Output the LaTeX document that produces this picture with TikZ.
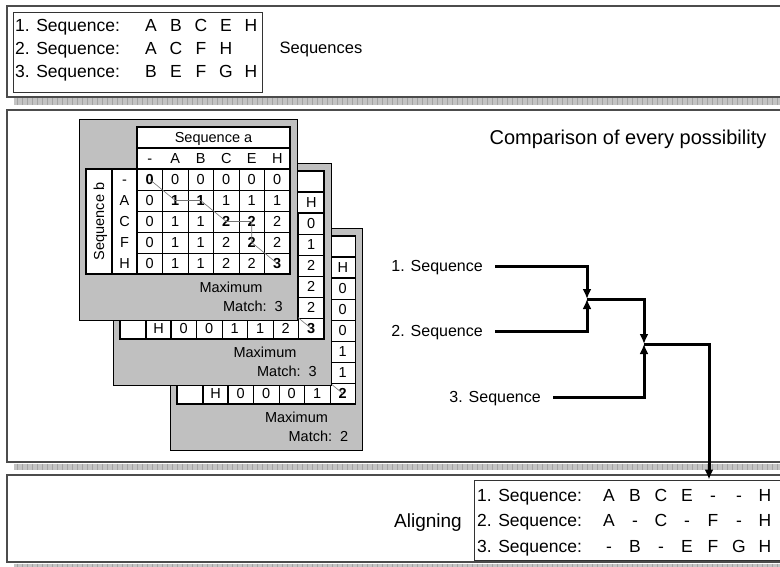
\documentclass[tikz,border=0pt]{standalone}
\usepackage{fontspec}
\setmainfont{Liberation Sans}
\usetikzlibrary{arrows,arrows.meta,positioning}
\definecolor{cardgray}{HTML}{C0C0C0}
\definecolor{stripgray}{HTML}{C4C4C4}
\definecolor{tickgray}{HTML}{A4A4A4}

\newcommand{\fs}[1]{\fontsize{#1}{#1}\selectfont}

\tikzset{mergeline/.style={line width=3pt, -{Latex[length=10pt,width=9pt]}}}

% a text of a card, left out where the card in front covers it
\def\coverx{0}\def\covery{0}
\newcommand{\cardnode}[5]{%
	\pgfmathsetmacro\cnx{#1}\pgfmathsetmacro\cny{#2}%
	\coordinate (#4) at (\cnx,\cny);%
	\def\cnshow{1}%
	\ifdim\cnx pt<\coverx pt\relax\ifdim\cny pt<\covery pt\relax\def\cnshow{0}\fi\fi
	\ifnum\cnshow=1 \node[#3] (#4) at (\cnx,\cny) {#5};\fi}

% one comparison card: name, left, top, columns, rows, column labels, row labels, values, maximum
\newcommand{\dpcard}[9]{%
	\draw[card] (#2,#3) rectangle ({#2+65+#4*25.5},{#3+96+#5*21});
	\draw[tab] ({#2+58},{#3+8}) rectangle ({#2+58+#4*25.5},{#3+50});
	\draw[tab] ({#2+58},{#3+29}) -- ({#2+58+#4*25.5},{#3+29});
	\cardnode{#2+58+#4*12.75}{#3+18.5}{lbl}{#1seqa}{Sequence a}
	\foreach \lab [count=\c] in {#6} {
		\cardnode{#2+58+(\c-0.5)*25.5}{#3+39.5}{lbl}{#1col\c}{\lab}
	}
	\draw[tab] ({#2+7},{#3+50}) rectangle ({#2+58+#4*25.5},{#3+50+#5*21});
	\foreach \k in {1,...,#4}
		\draw[gridline] ({#2+58+\k*25.5},{#3+50}) -- ({#2+58+\k*25.5},{#3+50+#5*21});
	\foreach \k in {1,...,#5}
		\draw[gridline] ({#2+58},{#3+50+\k*21}) -- ({#2+58+#4*25.5},{#3+50+\k*21});
	\draw[tab] ({#2+33},{#3+50}) -- ({#2+33},{#3+50+#5*21});
	\draw[tab] ({#2+58},{#3+50}) -- ({#2+58},{#3+50+#5*21});
	\cardnode{#2+20}{#3+50+#5*10.5}{lbl,rotate=90}{#1seqb}{Sequence b}
	\foreach \lab [count=\r] in {#7} {
		\cardnode{#2+45.5}{#3+50+(\r-0.5)*21}{lbl}{#1row\r}{\lab}
	}
	\foreach \row [count=\r from 0] in {#8} {
		\foreach \v [count=\c from 0] in \row {
			\cardnode{#2+58+(\c+0.5)*25.5}{#3+50+(\r+0.5)*21}{num}{#1-\r-\c}{\v}
		}
	}
	\node[lbl] (#1max) at ({#2+58+#4*25.5-59},{#3+63+#5*21}) {Maximum};
	\node[lbl,anchor=east] (#1match) at ({#2+58+#4*25.5-7},{#3+82+#5*21}) {Match:\ \ #9};
}

\begin{document}
\begin{tikzpicture}[x=1pt,y=-1pt,
	panel/.style={draw=black!70, fill=white, line width=1.4pt},
	hatchtick/.style={draw=tickgray, line width=0.5pt},
	box/.style={draw=black!80, line width=0.9pt},
	card/.style={draw=black, fill=cardgray, line width=0.9pt},
	tab/.style={draw=black, fill=white, line width=1.2pt},
	gridline/.style={draw=black, line width=0.5pt},
	tracepath/.style={draw=black!55, line width=0.6pt},
	num/.style={font=\fs{14.5}, inner sep=0pt, text height=10.4pt, text depth=0pt},
	lbl/.style={font=\fs{14.5}, inner sep=0pt, text height=10.4pt, text depth=0pt},
	seqtxt/.style={font=\fs{17.5}, inner sep=0pt, text height=12.6pt, text depth=0pt}
	]
	\useasboundingbox (0,0) rectangle (780,567);
	
	% panels with their shadow strips
	\draw[panel] (7,6) rectangle (790,97);
	\draw[panel] (7,110) rectangle (790,462);
	\draw[panel] (7,475) rectangle (790,562);
	\foreach \y in {98.5,463.5,563.5} {
		\fill[stripgray] (14,\y) rectangle (790,{\y+6.5});
		\foreach \x in {17,22,...,787}
			\draw[hatchtick] (\x,\y) -- (\x,{\y+6.5});
	}
	
	% sequences
	\draw[box] (13,12) rectangle (262,92);
	\foreach \s [count=\i] in {{A,B,C,E,H},{A,C,F,H},{B,E,F,G,H}} {
		\node[seqtxt,anchor=west] (in\i) at (15,{2+23*\i}) {\i. Sequence:};
		\foreach \lab [count=\j] in \s
			\node[seqtxt] (in\i-\j) at ({126+25*\j},{2+23*\i}) {\lab};
	}
	\node[font=\fs{16.5}, inner sep=0pt, text height=11.8pt, text depth=0pt] (seqs) at (321,48) {Sequences};
	
	% comparison cards, back to front
	\def\coverx{331}\def\covery{385}
	\dpcard{cc}{170}{228}{5}{6}{-,A,C,F,H}{-,B,E,F,G,H}%
		{{\textbf{0},0,0,0,0},{0,\textbf{0},0,0,0},{0,0,\textbf{0},0,0},{0,0,0,\textbf{1},1},{0,0,0,\textbf{1},1},{0,0,0,1,\textbf{2}}}{2}
	\draw[tracepath] (cc-0-0.center) -- (cc-1-1.center) -- (cc-2-2.center) -- (cc-3-3.center) -- (cc-4-3.center) -- (cc-5-4.center);
	
	\def\coverx{297}\def\covery{320}
	\dpcard{cb}{113}{163}{6}{6}{-,A,B,C,E,H}{-,B,E,F,G,H}%
		{{\textbf{0},\textbf{0},0,0,0,0},{0,0,\textbf{1},\textbf{1},1,1},{0,0,1,1,\textbf{2},2},{0,0,1,1,\textbf{2},2},{0,0,1,1,\textbf{2},2},{0,0,1,1,2,\textbf{3}}}{3}
	\draw[tracepath] (cb-0-0.center) -- (cb-0-1.center) -- (cb-1-2.center) -- (cb-1-3.center) -- (cb-2-4.center) -- (cb-4-4.center) -- (cb-5-5.center);
	
	\def\coverx{0}\def\covery{0}
	\dpcard{ca}{79}{119}{6}{5}{-,A,B,C,E,H}{-,A,C,F,H}%
		{{\textbf{0},0,0,0,0,0},{0,\textbf{1},\textbf{1},1,1,1},{0,1,1,\textbf{2},\textbf{2},2},{0,1,1,2,\textbf{2},2},{0,1,1,2,2,\textbf{3}}}{3}
	\draw[tracepath] (ca-0-0.center) -- (ca-1-1.center) -- (ca-1-2.center) -- (ca-2-3.center) -- (ca-2-4.center) -- (ca-3-4.center) -- (ca-4-5.center);
	
	\node[font=\fs{20}, inner sep=0pt, text height=14.3pt, text depth=0pt] (cmp) at (628,137) {Comparison of every possibility};
	
	% merging
	\node[font=\fs{16}, inner sep=0pt, text height=11.5pt, text depth=0pt, anchor=east] (s1) at (483,266) {1. Sequence};
	\node[font=\fs{16}, inner sep=0pt, text height=11.5pt, text depth=0pt, anchor=east] (s2) at (483,331) {2. Sequence};
	\node[font=\fs{16}, inner sep=0pt, text height=11.5pt, text depth=0pt, anchor=east] (s3) at (541,397) {3. Sequence};
	\coordinate (m1) at (587,299);
	\coordinate (m2) at (644,344);
	
	% alignment
	\draw[box] (474,480) rectangle (790,560);
	\coordinate (t) at (709,479.5);
	\foreach \s [count=\i] in {{A,B,C,E,-,-,H},{A,-,C,-,F,-,H},{-,B,-,E,F,G,H}} {
		\node[seqtxt,anchor=west] (out\i) at (477,{469.5+25.5*\i}) {\i. Sequence:};
		\foreach \lab [count=\j] in \s
			\node[seqtxt] (out\i-\j) at ({583+26*\j},{469.5+25.5*\i}) {\lab};
	}
	\node[font=\fs{19}, inner sep=0pt, text height=13.6pt, text depth=0pt, anchor=east] (aln) at (462,521) {Aligning};
	
	\draw[mergeline] ([xshift=12pt]s1.east) -| (m1);
	\draw[mergeline] ([xshift=12pt]s2.east) -| (m1);
	\draw[mergeline] (m1) -| (m2);
	\draw[mergeline] ([xshift=12pt]s3.east) -| (m2);
	\draw[mergeline] (m2) -| (t);
\end{tikzpicture}
\end{document}
